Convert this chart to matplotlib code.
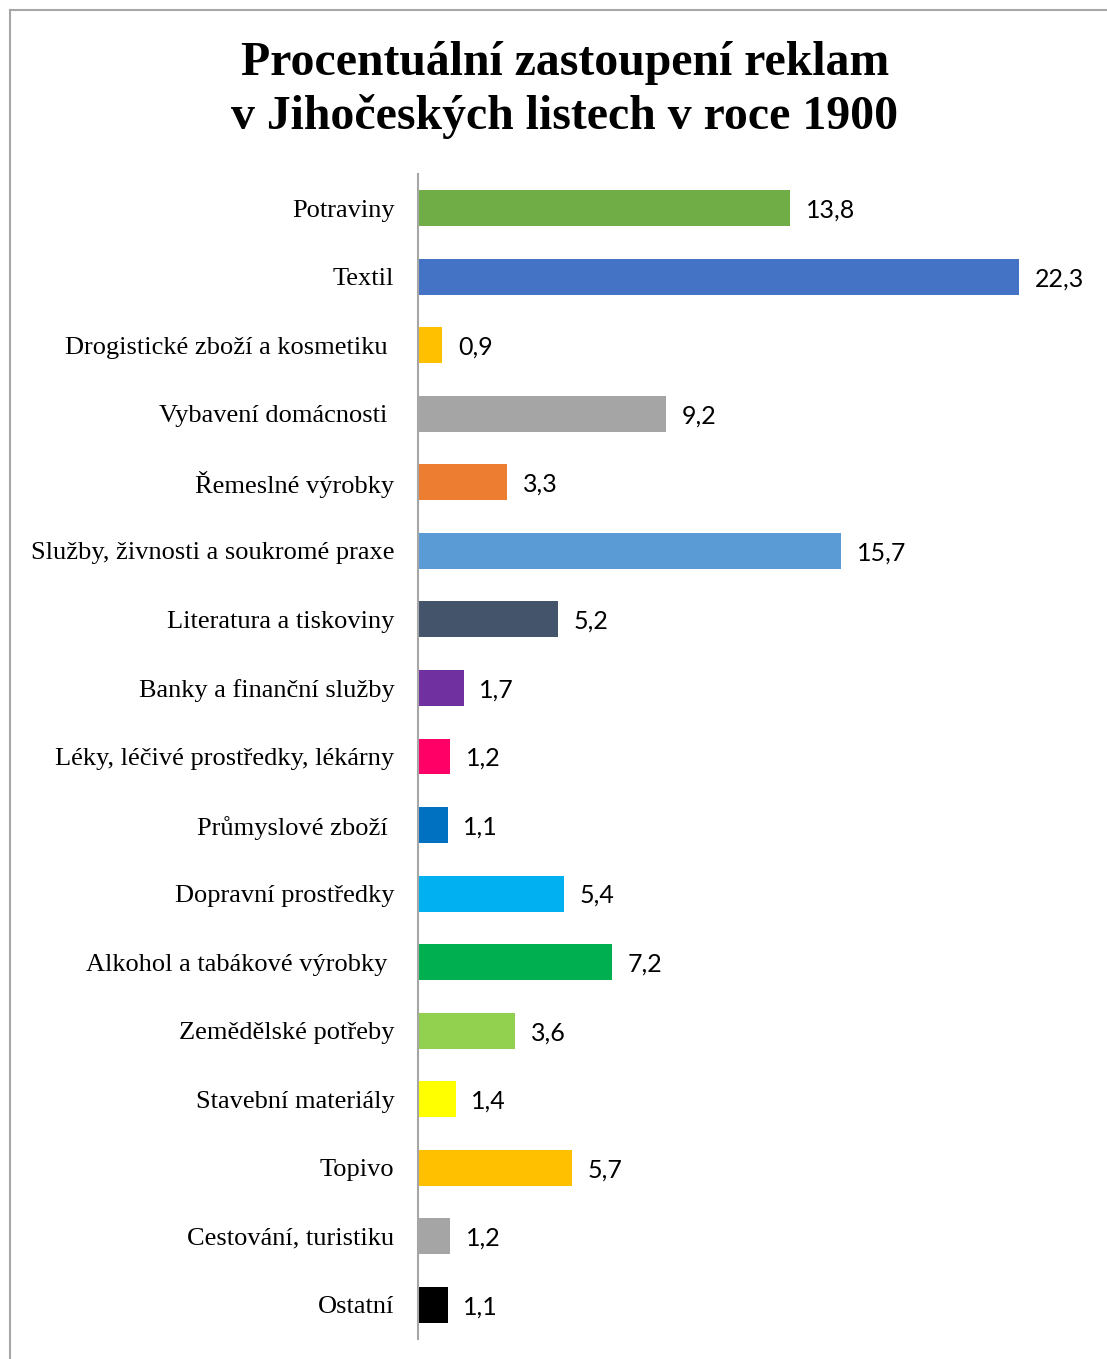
import matplotlib.pyplot as plt
from matplotlib.lines import Line2D

categories = [
    "Potraviny",
    "Textil",
    "Drogistické zboží a kosmetiku ",
    "Vybavení domácnosti ",
    "Řemeslné výrobky",
    "Služby, živnosti a soukromé praxe",
    "Literatura a tiskoviny",
    "Banky a finanční služby",
    "Léky, léčivé prostředky, lékárny",
    "Průmyslové zboží ",
    "Dopravní prostředky",
    "Alkohol a tabákové výrobky ",
    "Zemědělské potřeby",
    "Stavební materiály",
    "Topivo",
    "Cestování, turistiku",
    "Ostatní",
]
values = [13.8, 22.3, 0.9, 9.2, 3.3, 15.7, 5.2, 1.7, 1.2, 1.1, 5.4, 7.2, 3.6, 1.4, 5.7, 1.2, 1.1]
colors = ["#70AD47", "#4472C4", "#FFC000", "#A5A5A5", "#ED7D31", "#5B9BD5", "#44546A",
          "#7030A0", "#FF0066", "#0070C0", "#00B0F0", "#00B050", "#92D050", "#FFFF00",
          "#FFC000", "#A5A5A5", "#000000"]

W, H = 1107, 1359
fig = plt.figure(figsize=(W / 100, H / 100), dpi=100)
ax = fig.add_axes([418 / W, 20 / H, (1091 - 418) / W, (1339 - 174) / H])

y = list(range(len(categories)))
ax.barh(y, values, height=0.525, color=colors)
ax.set_ylim(len(categories) - 0.5, -0.5)
ax.set_xlim(0, 24.97)

for yi, v in zip(y, values):
    ax.text(v + 0.58, yi, f"{v:.1f}".replace(".", ","), va="center_baseline", ha="left",
            fontsize=18, family="Lato")

ax.set_yticks(y)
ax.set_yticklabels(categories, family="Liberation Serif", fontsize=19)
ax.tick_params(axis="y", length=0, pad=17)
ax.set_xticks([])
for s in ["top", "right", "bottom"]:
    ax.spines[s].set_visible(False)
ax.spines["left"].set_color("#A6A6A6")
ax.spines["left"].set_linewidth(1.5)

fig.text(565 / W, 1 - 90 / H, "Procentuální zastoupení reklam\nv Jihočeských listech v roce 1900",
         ha="center", va="center", family="Liberation Serif", fontweight="bold",
         fontsize=34.4, linespacing=1.27)

# outer border (top and left visible)
fig.add_artist(Line2D([10 / W, 1106 / W], [1 - 10 / H, 1 - 10 / H], color="#A6A6A6", lw=1.5))
fig.add_artist(Line2D([10 / W, 10 / W], [1 - 10 / H, 0], color="#A6A6A6", lw=1.5))

fig.savefig("out.png", dpi=100)
